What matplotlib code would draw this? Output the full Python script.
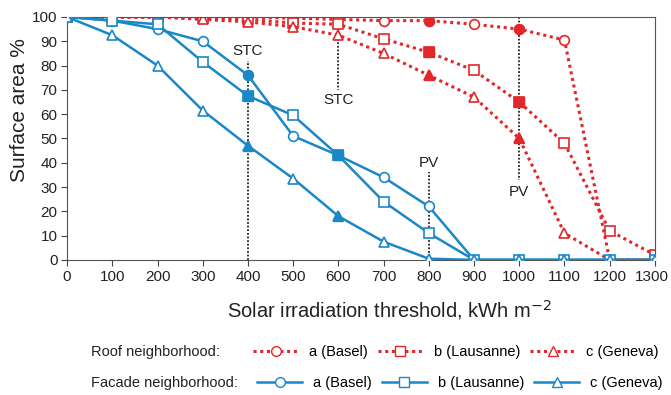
import matplotlib.pyplot as plt
import matplotlib.transforms as mtransforms
from matplotlib.lines import Line2D

plt.rcParams['font.family'] = ['Liberation Sans', 'DejaVu Sans']

# solar irradiation thresholds, kWh m-2
x = [0, 100, 200, 300, 400, 500, 600, 700, 800, 900, 1000, 1100, 1200, 1300]

# roof surfaces, % of area above threshold
roof_a = [100, 100, 100, 100, 100, 99.5, 99, 98.5, 98.5, 97, 95, 90.5, 0, 0]
roof_b = [100, 100, 100, 99.5, 99, 97.5, 97, 91, 85.5, 78, 65, 48, 12, 2]
roof_c = [100, 100, 100, 99, 98, 96, 92.5, 85, 76, 67, 50, 11, 0, 0]

# facade surfaces
fac_a = [100, 98.5, 95, 90, 76, 51, 43, 34, 22, 0, 0, 0, 0, 0]
fac_b = [100, 98.5, 97, 81.5, 67.5, 59.5, 43, 24, 11, 0, 0, 0, 0, 0]
fac_c = [100, 92.5, 80, 61.5, 47, 33.5, 18, 7.5, 0.5, 0, 0, 0, 0, 0]

# points drawn with filled markers (STC / PV thresholds)
roof_filled = [8, 10]
fac_filled = [4, 6]

labels = ['a (Basel)', 'b (Lausanne)', 'c (Geneva)']
markers = ['o', 's', '^']
red = '#e2272b'
blue = '#1a87c8'
ink = '#222222'

fig = plt.figure(figsize=(6.71, 3.95), dpi=100)
ax = fig.add_axes([0.1, 0.342, 0.876, 0.615])

# threshold markers: (x, y from, y to, label, label y)
vlines = [(400, 0, 82, 'STC', 86), (600, 100, 70, 'STC', 66),
          (800, 0, 36, 'PV', 40), (1000, 100, 33, 'PV', 28)]
for xv, y0, y1, txt, ty in vlines:
    ax.plot([xv, xv], [y0, y1], color=ink, ls=(0, (1, 1)), lw=1.3, zorder=1)
    ax.text(xv, ty, txt, ha='center', va='center', fontsize=11, color=ink)

for ys, m in zip([roof_a, roof_b, roof_c], markers):
    ax.plot(x, ys, color=red, ls=(0, (1, 1.2)), lw=2.2, marker=m, ms=7,
            mfc='white', mec=red, mew=1.2, zorder=2)
    ax.plot([x[i] for i in roof_filled], [ys[i] for i in roof_filled], ls='none',
            marker=m, ms=7, mfc=red, mec=red, zorder=3)

for ys, m in zip([fac_a, fac_b, fac_c], markers):
    ax.plot(x, ys, color=blue, lw=1.8, marker=m, ms=7,
            mfc='white', mec=blue, mew=1.2, zorder=4)
    ax.plot([x[i] for i in fac_filled], [ys[i] for i in fac_filled], ls='none',
            marker=m, ms=7, mfc=blue, mec=blue, zorder=5)

ax.set_xlim(0, 1300)
ax.set_ylim(0, 100)
ax.set_xticks(x)
ax.set_yticks(range(0, 101, 10))
ax.tick_params(direction='out', labelsize=11, length=4, pad=3, color='#444444', labelcolor=ink)
for s in ax.spines.values():
    s.set_color('#555555')

# keep the last x tick label inside the figure
last = ax.get_xticklabels()[-1]
last.set_transform(last.get_transform() + mtransforms.ScaledTranslation(-3 / 100, 0, fig.dpi_scale_trans))

ax.set_ylabel('Surface area %', fontsize=15, color=ink)
ax.yaxis.label.set_va('baseline')
ax.yaxis.set_label_coords(-0.0714, 0.617)
ax.set_xlabel('Solar irradiation threshold, kWh m$^{-2}$', fontsize=14.5, color=ink)
ax.xaxis.label.set_va('baseline')
ax.xaxis.set_label_coords(0.549, -0.2346)

# legends
roof_h = [Line2D([], [], color=red, ls=(0, (1, 1.2)), lw=2.2, marker=m, ms=7,
                 mfc='white', mec=red) for m in markers]
fac_h = [Line2D([], [], color=blue, lw=1.8, marker=m, ms=7,
                mfc='white', mec=blue) for m in markers]
leg_kw = dict(ncol=3, frameon=False, fontsize=10.5, loc='center left', borderpad=0,
              borderaxespad=0, handlelength=3.1, columnspacing=0.68, handletextpad=0.75)
fig.legend(roof_h, labels, bbox_to_anchor=(0.377, 0.109), **leg_kw)
fig.legend(fac_h, labels, bbox_to_anchor=(0.383, 0.030), **leg_kw)
fig.text(0.1356, 0.109, 'Roof neighborhood:', fontsize=10.5, va='center', color=ink)
fig.text(0.1356, 0.030, 'Facade neighborhood:', fontsize=10.5, va='center', color=ink)

fig.savefig('out.png', dpi=100)
